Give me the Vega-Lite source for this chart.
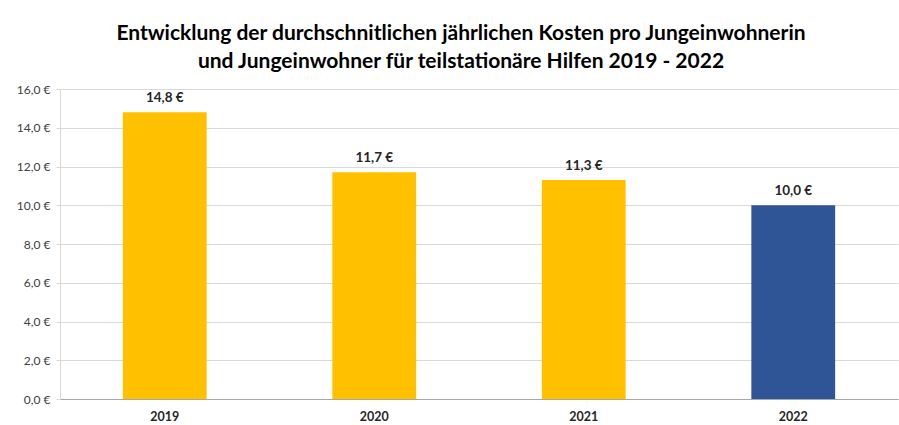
{
  "$schema": "https://vega.github.io/schema/vega-lite/v6.json",
  "width": 838,
  "height": 310,
  "autosize": "none",
  "padding": {"left": 60, "top": 89, "right": 1, "bottom": 26},
  "background": "white",
  "config": {
    "view": {"stroke": null},
    "locale": {
      "number": {"decimal": ",", "thousands": ".", "grouping": [3], "currency": ["", " €"]}
    },
    "font": "Lato"
  },
  "title": {
    "text": ["Entwicklung der durchschnitlichen jährlichen Kosten pro Jungeinwohnerin", "und Jungeinwohner für teilstationäre Hilfen 2019 - 2022"],
    "font": "Lato",
    "fontSize": 21,
    "fontWeight": "bold",
    "color": "#000000",
    "lineHeight": 28,
    "anchor": "middle",
    "dx": -18,
    "offset": 11
  },
  "data": {
    "values": [
      {"jahr": "2019", "kosten": 14.8, "gruppe": "vorjahre"},
      {"jahr": "2020", "kosten": 11.7, "gruppe": "vorjahre"},
      {"jahr": "2021", "kosten": 11.3, "gruppe": "vorjahre"},
      {"jahr": "2022", "kosten": 10.0, "gruppe": "aktuell"}
    ]
  },
  "encoding": {
    "x": {
      "field": "jahr",
      "type": "nominal",
      "scale": {"paddingInner": 0.6, "paddingOuter": 0.3},
      "axis": {
        "title": null,
        "labelAngle": 0,
        "labelFont": "Lato",
        "labelFontSize": 12.5,
        "labelFontWeight": "bold",
        "labelColor": "#262626",
        "labelPadding": 11,
        "ticks": false,
        "domainColor": "#A6A6A6",
        "domainWidth": 1
      }
    },
    "y": {
      "field": "kosten",
      "type": "quantitative",
      "scale": {"domain": [0, 16], "nice": false},
      "axis": {
        "title": null,
        "values": [0, 2, 4, 6, 8, 10, 12, 14, 16],
        "format": "$.1f",
        "labelFont": "Lato",
        "labelFontSize": 12,
        "labelColor": "#404040",
        "labelPadding": 6,
        "tickSize": 4,
        "tickColor": "#D9D9D9",
        "domainColor": "#D9D9D9",
        "gridColor": "#D9D9D9",
        "gridWidth": 1
      }
    }
  },
  "layer": [
    {
      "mark": {"type": "bar"},
      "encoding": {
        "color": {
          "field": "gruppe",
          "type": "nominal",
          "scale": {"domain": ["vorjahre", "aktuell"], "range": ["#FFC000", "#2F5597"]},
          "legend": null
        }
      }
    },
    {
      "mark": {"type": "text", "baseline": "bottom", "dy": -7, "font": "Lato", "fontSize": 13.5, "fontWeight": "bold", "color": "#262626"},
      "encoding": {
        "text": {"field": "kosten", "type": "quantitative", "format": "$.1f"}
      }
    }
  ]
}
